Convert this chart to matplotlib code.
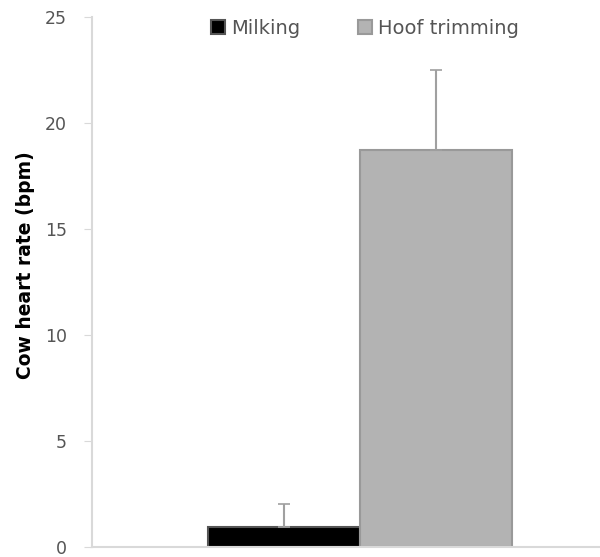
import matplotlib

matplotlib.use("Agg")
import matplotlib.pyplot as plt

groups = ["Milking", "Hoof trimming"]
means = [0.95, 18.73]
errors = [1.1, 3.77]
colors = ["#000000", "#b3b3b3"]
edges = ["#555555", "#999999"]
y_ticks = [0, 5, 10, 15, 20, 25]

fig = plt.figure(figsize=(6.0, 5.57), dpi=100)
W, H = 600, 557
ax = fig.add_axes([92 / W, (H - 547) / H, (600 - 92) / W, (547 - 17) / H])

xpos = [-0.5, 0.5]
for x, m, e, c, ec, lab in zip(xpos, means, errors, colors, edges, groups):
    ax.bar(x, m, width=1.0, color=c, edgecolor=ec, linewidth=1.5, label=lab, zorder=2)
    ax.errorbar(x, m, yerr=[[0], [e]], fmt="none", ecolor="#a0a0a0",
                elinewidth=1.5, capsize=4, capthick=1.2, zorder=3)

ax.set_xlim((92 - 360) / 152, (600 - 360) / 152)
ax.set_ylim(0, 25)
ax.set_yticks(y_ticks)
ax.set_xticks([])
for s in ["top", "right"]:
    ax.spines[s].set_visible(False)
ax.spines["left"].set_color("#d9d9d9")
ax.spines["bottom"].set_color("#d9d9d9")
ax.spines["left"].set_linewidth(1.5)
ax.spines["bottom"].set_linewidth(1.5)
ax.tick_params(axis="y", direction="out", length=6, color="#d9d9d9",
               labelcolor="#555555", labelsize=12.5, pad=12)
ax.set_ylabel("Cow heart rate (bpm)", fontsize=13.5, fontweight="bold")
ax.yaxis.set_label_coords(-0.112, 0.532)

ax.legend(loc="upper center", bbox_to_anchor=(0.537, 1.03), ncol=2, frameon=False,
          fontsize=14, handlelength=0.7, handleheight=0.7, columnspacing=3.0,
          handletextpad=0.3, labelcolor="#555555")

fig.savefig("out.png", dpi=100)
